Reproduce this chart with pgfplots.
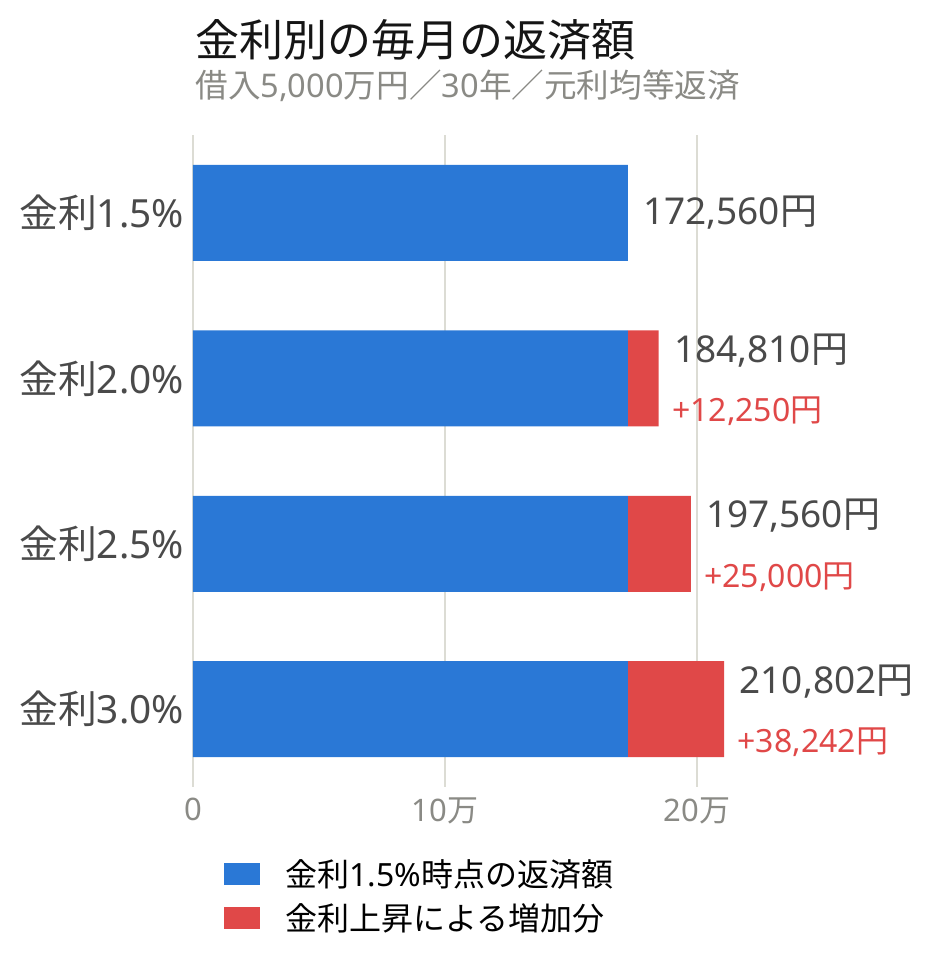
\documentclass[border=0pt]{standalone}
\usepackage{fontspec}
\setmainfont{Noto Sans}
\newfontfamily\cjk{Noto Sans CJK JP}
\usepackage{pgfplots}
\pgfplotsset{compat=1.18}
\definecolor{barblue}{HTML}{2A78D6}
\definecolor{barred}{HTML}{E04848}
\definecolor{titlec}{HTML}{151515}
\definecolor{subc}{HTML}{8A8A85}
\definecolor{labc}{HTML}{4A4A4A}
\definecolor{gridc}{HTML}{DCDCD4}
\pgfplotstableread{
y base inc
0 172560 0
1 172560 12250
2 172560 25000
3 172560 38242
}\datatable
\begin{document}
\begin{tikzpicture}
\path[use as bounding box] (0pt,0pt) rectangle (466.5pt,-485.5pt);
\node[anchor=west,inner sep=0pt,font=\fontsize{22}{22}\selectfont\cjk,text=titlec] at (97.5pt,-20pt) {金利別の毎月の返済額};
\node[anchor=west,inner sep=0pt,font=\fontsize{16.3}{16.3}\selectfont,text=subc] at (97.5pt,-43pt) {{\cjk 借入}5,000{\cjk 万円／}30{\cjk 年／元利均等返済}};
\begin{axis}[
  at={(96.5pt,-393.5pt)}, anchor=south west,
  width=315pt, height=326pt, scale only axis,
  xmin=0, xmax=250000, ymin=-0.47, ymax=3.47,
  y dir=reverse,
  xbar stacked, bar width=48pt,
  clip=false,
  axis line style={draw=none},
  major tick length=0pt,
  scaled x ticks=false,
  xmajorgrids, grid style={color=gridc, line width=1.4pt},
  xtick={0,100000,200000}, xticklabels={0,10{\cjk 万},20{\cjk 万}},
  xticklabel style={font=\fontsize{15.5}{15.5}\selectfont, text=subc, yshift=-2pt},
  ytick={0,1,2,3}, yticklabels={{\cjk 金利}1.5\%,{\cjk 金利}2.0\%,{\cjk 金利}2.5\%,{\cjk 金利}3.0\%},
  yticklabel style={font=\fontsize{19.4}{19.4}\selectfont, text=labc, xshift=-1pt},
  legend style={at={(axis description cs:0.048,-0.104)}, anchor=north west, draw=none, fill=none,
    font=\fontsize{16}{16}\selectfont, row sep=3pt, inner sep=0pt, cells={anchor=west},
    /tikz/every odd column/.append style={column sep=11pt}},
  legend image code/.code={\fill[#1] (0pt,-5.5pt) rectangle (18pt,5.5pt);},
]
\addplot[fill=barblue, draw=none] table[x=base, y=y] {\datatable};
\addlegendentry{{\cjk 金利}1.5\%{\cjk 時点の返済額}}
\addplot[fill=barred, draw=none] table[x=inc, y=y] {\datatable};
\addlegendentry{{\cjk 金利上昇による増加分}}
\node[anchor=west, inner sep=0pt, font=\fontsize{18.5}{18.5}\selectfont, text=labc, xshift=7.5pt] at (axis cs:172560,0) {172,560{\cjk 円}};
\node[anchor=west, inner sep=0pt, font=\fontsize{18.5}{18.5}\selectfont, text=labc, xshift=7.5pt, yshift=14pt] at (axis cs:184810,1) {184,810{\cjk 円}};
\node[anchor=west, inner sep=0pt, font=\fontsize{16}{16}\selectfont, text=barred, xshift=6.5pt, yshift=-16.5pt] at (axis cs:184810,1) {+12,250{\cjk 円}};
\node[anchor=west, inner sep=0pt, font=\fontsize{18.5}{18.5}\selectfont, text=labc, xshift=7.5pt, yshift=14pt] at (axis cs:197560,2) {197,560{\cjk 円}};
\node[anchor=west, inner sep=0pt, font=\fontsize{16}{16}\selectfont, text=barred, xshift=6.5pt, yshift=-16.5pt] at (axis cs:197560,2) {+25,000{\cjk 円}};
\node[anchor=west, inner sep=0pt, font=\fontsize{18.5}{18.5}\selectfont, text=labc, xshift=7.5pt, yshift=14pt] at (axis cs:210802,3) {210,802{\cjk 円}};
\node[anchor=west, inner sep=0pt, font=\fontsize{16}{16}\selectfont, text=barred, xshift=6.5pt, yshift=-16.5pt] at (axis cs:210802,3) {+38,242{\cjk 円}};
\end{axis}
\end{tikzpicture}
\end{document}
